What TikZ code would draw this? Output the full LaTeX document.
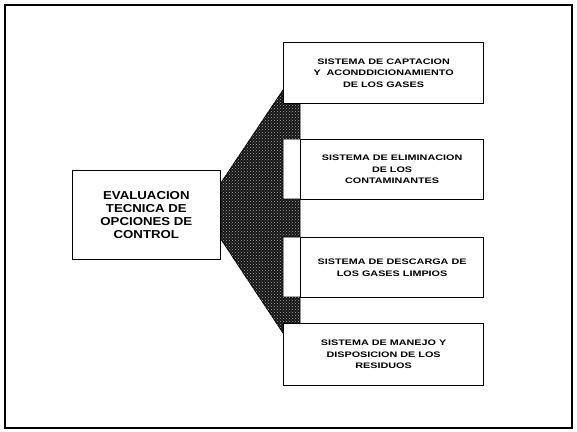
\documentclass[tikz,border=0pt]{standalone}
\usepackage{fontspec}
\setmainfont{Liberation Sans}
\newfontfamily\leftfont{Liberation Sans}[FakeStretch=1.15]
\newfontfamily\rightfont{Liberation Sans}[FakeStretch=1.35]
\usetikzlibrary{patterns}
\begin{document}
\begin{tikzpicture}[x=1pt,y=-1pt,
  box/.style={draw=black, line width=1.2pt, fill=white, inner sep=0pt, align=center, anchor=north west},
  mainbox/.style={box, font={\leftfont\bfseries\fontsize{11.5}{13}\selectfont}},
  subbox/.style={box, font={\rightfont\bfseries\fontsize{8}{11.5}\selectfont}},
  shade/.style={fill=black!92, draw=black, line width=0.8pt},
  dots/.style={pattern=crosshatch dots, pattern color=white!65!black}]
\useasboundingbox (0,0) rectangle (577,431);
\draw[line width=1.8pt] (5,5) rectangle (572,428);
% shaded connector
\path[shade] (219.5,185) -- (283,90) -- (283,103) -- (300,103) -- (300,139) -- (283,139)
  -- (283,199) -- (300,199) -- (300,237) -- (283,237) -- (283,297) -- (300,297)
  -- (300,323) -- (283,323) -- (283,333) -- (219.5,237) -- cycle;
\path[dots] (219.5,185) -- (283,90) -- (283,103) -- (300,103) -- (300,139) -- (283,139)
  -- (283,199) -- (300,199) -- (300,237) -- (283,237) -- (283,297) -- (300,297)
  -- (300,323) -- (283,323) -- (283,333) -- (219.5,237) -- cycle;
% boxes
\node[mainbox, minimum width=147.5pt, minimum height=89pt] (main) at (72,170)
  {EVALUACION\\TECNICA DE\\OPCIONES DE\\CONTROL};
\node[subbox, minimum width=200pt, minimum height=61pt] (b1) at (283,42)
  {SISTEMA DE CAPTACION\\Y\ \ ACONDDICIONAMIENTO\\DE LOS GASES};
\node[subbox, minimum width=183pt, minimum height=60pt] (b2) at (300,139)
  {SISTEMA DE ELIMINACION\\DE LOS\\CONTAMINANTES};
\node[subbox, minimum width=183pt, minimum height=60pt] (b3) at (300,237)
  {SISTEMA DE DESCARGA DE\\LOS GASES LIMPIOS};
\node[subbox, minimum width=200pt, minimum height=62pt] (b4) at (283,323)
  {SISTEMA DE MANEJO Y\\DISPOSICION DE LOS\\RESIDUOS};
\end{tikzpicture}
\end{document}
